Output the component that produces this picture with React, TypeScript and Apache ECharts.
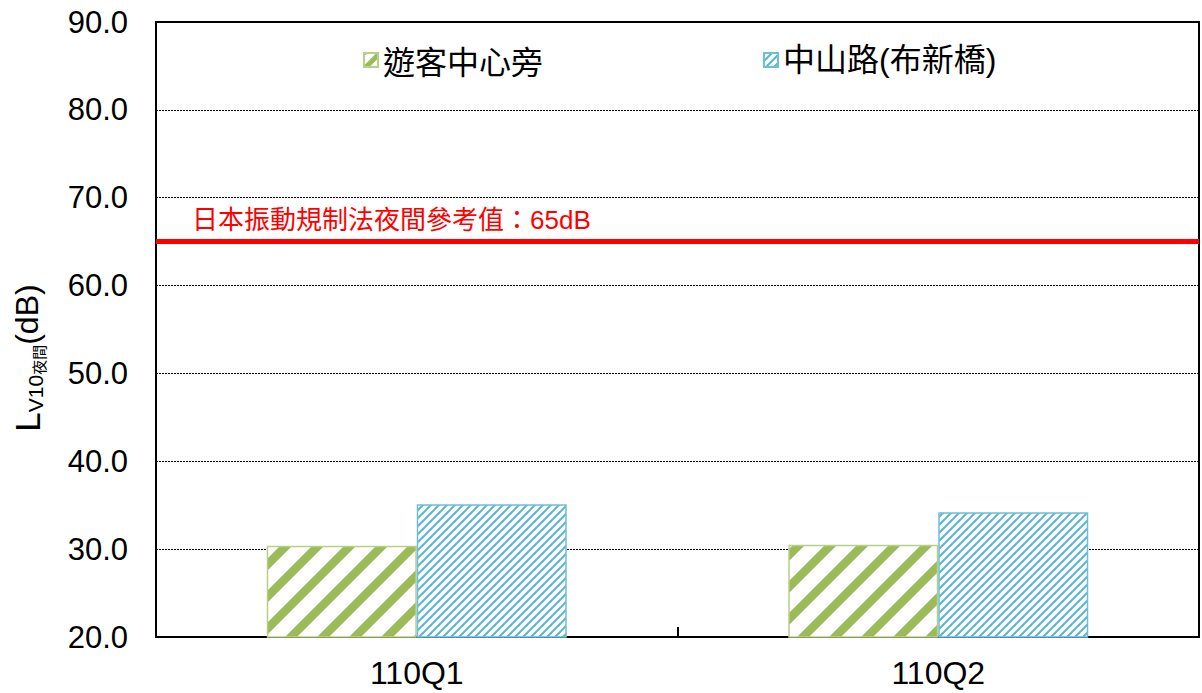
import React, { useEffect, useRef } from "react";
import * as echarts from "echarts";

const categories = ["110Q1", "110Q2"];
const seriesNames = ["遊客中心旁", "中山路(布新橋)"];
const visitorCenter = [30.4, 30.5];
const zhongshanRd = [35.1, 34.2];
const referenceValue = 65;
const referenceLabel = "日本振動規制法夜間參考值：65dB";

function makeStripe(size: number, width: number, color: string): HTMLCanvasElement {
  const c = document.createElement("canvas");
  c.width = size;
  c.height = size;
  const ctx = c.getContext("2d")!;
  ctx.fillStyle = "#ffffff";
  ctx.fillRect(0, 0, size, size);
  ctx.strokeStyle = color;
  ctx.lineWidth = width;
  ctx.lineCap = "square";
  for (let k = -1; k <= 1; k++) {
    ctx.beginPath();
    ctx.moveTo(k * size - 2, size + 2);
    ctx.lineTo(k * size + size + 2, -2);
    ctx.stroke();
  }
  return c;
}

export default function App() {
  const ref = useRef<HTMLDivElement>(null);
  useEffect(() => {
    if (!ref.current) return;
    const chart = echarts.init(ref.current, null, { renderer: "svg" });
    const greenPat = { image: makeStripe(32, 8.5, "#9bbb59"), repeat: "repeat" };
    const greenIconPat = { image: makeStripe(16, 5, "#9bbb59"), repeat: "repeat" };
    const bluePat = { image: makeStripe(8, 2.2, "#5fb6cf"), repeat: "repeat" };
    const latin = "Liberation Sans, Arial, sans-serif";
    const cjk = "Noto Sans CJK TC, sans-serif";
    const mixed = "Liberation Sans, Noto Sans CJK TC, sans-serif";
    chart.setOption({
      animation: false,
      grid: {
        left: 156,
        right: 3,
        top: 22,
        bottom: 56,
        show: true,
        borderColor: "#000",
        borderWidth: 2,
        backgroundColor: "transparent",
      },
      legend: [
        {
          data: [{ name: seriesNames[0], itemStyle: { color: greenIconPat } }],
          left: 358,
          top: 39,
          icon: "rect",
          itemWidth: 14,
          itemHeight: 14,
          itemGap: 6,
          textStyle: { fontFamily: cjk, fontSize: 32, color: "#000" },
        },
        {
          data: [seriesNames[1]],
          left: 758,
          top: 39,
          icon: "rect",
          itemWidth: 14,
          itemHeight: 14,
          itemGap: 6,
          textStyle: { fontFamily: mixed, fontSize: 32, color: "#000" },
        },
      ],
      xAxis: {
        type: "category",
        data: categories,
        axisLine: { lineStyle: { color: "#000", width: 2 } },
        axisTick: { show: true, inside: true, length: 10, lineStyle: { color: "#000", width: 2 } },
        axisLabel: { fontFamily: latin, fontSize: 32, fontWeight: "normal", color: "#000", margin: 20 },
      },
      yAxis: {
        type: "value",
        min: 20,
        max: 90,
        interval: 10,
        axisLine: { show: true, lineStyle: { color: "#000", width: 2 } },
        axisTick: { show: false },
        axisLabel: {
          fontFamily: latin,
          fontSize: 31,
          fontWeight: "normal",
          color: "#000",
          margin: 28,
          formatter: (v: number) => v.toFixed(1),
        },
        splitLine: { lineStyle: { color: "#000", type: [2, 1], width: 1 } },
      },
      graphic: [
        {
          type: "text",
          x: 27,
          y: 358,
          rotation: Math.PI / 2,
          style: {
            text: "{l|L}{s|V10}{t|夜間}{p|(dB)}",
            align: "center",
            verticalAlign: "middle",
            fill: "#000",
            rich: {
              l: { fontFamily: latin, fontSize: 35, lineHeight: 38, fill: "#000" },
              s: { fontFamily: latin, fontSize: 21, verticalAlign: "bottom", fill: "#000" },
              t: { fontFamily: cjk, fontSize: 15, verticalAlign: "bottom", fill: "#000" },
              p: { fontFamily: latin, fontSize: 32, lineHeight: 38, fill: "#000" },
            },
          },
        },
      ],
      series: [
        {
          name: seriesNames[0],
          type: "bar",
          data: visitorCenter,
          barWidth: 150,
          barGap: "0%",
          itemStyle: { color: greenPat, borderColor: "#b7cf87", borderWidth: 1.5 },
          markLine: {
            silent: true,
            symbol: "none",
            data: [{ yAxis: referenceValue }],
            lineStyle: { color: "#ff0000", width: 5, type: "solid" },
            label: {
              show: true,
              position: "insideStartTop",
              formatter: referenceLabel,
              color: "#ff0000",
              fontFamily: mixed,
              fontSize: 26,
              distance: [36, 9],
            },
          },
        },
        {
          name: seriesNames[1],
          type: "bar",
          data: zhongshanRd,
          barWidth: 150,
          itemStyle: { color: bluePat, borderColor: "#6fbfd4", borderWidth: 1.5 },
        },
      ],
    });
    return () => chart.dispose();
  }, []);
  return (
    <div
      ref={ref}
      style={{ position: "fixed", left: 0, top: 0, width: 1202, height: 693, background: "#fff" }}
    />
  );
}
